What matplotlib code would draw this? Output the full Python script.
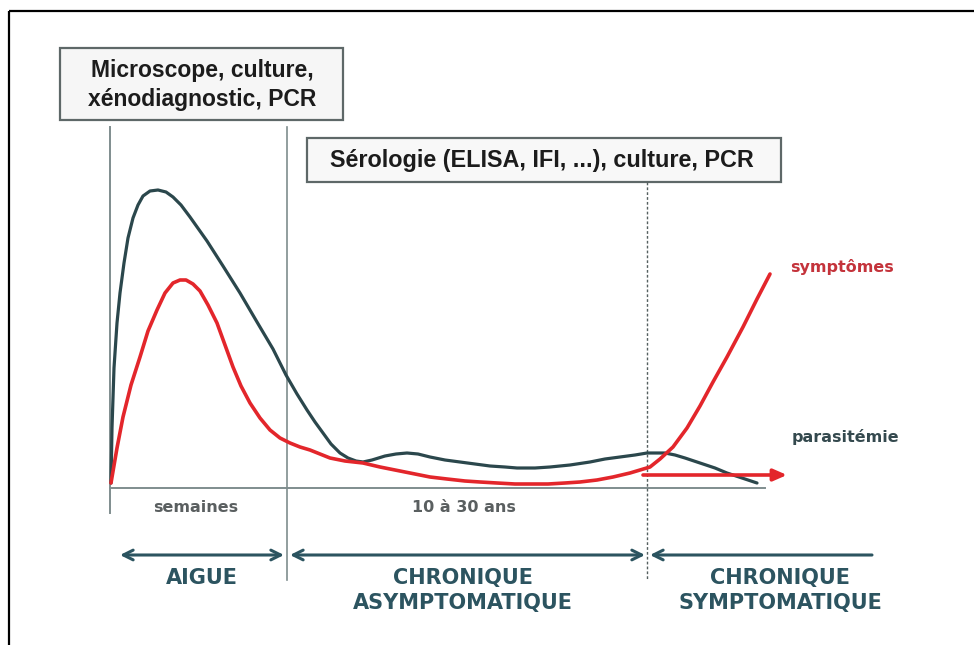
"""
Schema: evolution de la parasitemie et des symptomes (phase aigue -> chronique).
Coordonnees: x = position horizontale, y = niveau au-dessus de l'axe du temps.
"""
import matplotlib.pyplot as plt
from matplotlib.patches import Rectangle

# courbe parasitemie (sombre)
PARA_X = [111, 112, 114, 117, 120, 124, 128, 133, 138, 143, 150, 158, 166, 173,
          181, 190, 207, 223, 240, 257, 273, 286, 297, 307, 315, 323, 331, 340,
          348, 356, 363, 372, 385, 396, 407, 418, 430, 445, 460, 475, 490, 505,
          517, 535, 550, 570, 590, 605, 620, 635, 647, 656, 665, 675, 685, 700,
          715, 727, 742, 757]
PARA_Y = [5, 60, 120, 165, 195, 225, 250, 270, 283, 292, 297, 298, 296, 291,
          283, 271, 247, 222, 195, 166, 139, 113, 94, 78, 66, 55, 44, 35, 30,
          27, 26, 28, 32, 34, 35, 34, 31, 28, 26, 24, 22, 21, 20, 20, 21, 23,
          26, 29, 31, 33, 35, 35, 35, 33, 30, 25, 20, 15, 10, 5]

# courbe symptomes (rouge)
SYMP_X = [111, 117, 123, 131, 140, 148, 157, 165, 173, 180, 186, 193, 200, 208,
          217, 225, 233, 241, 250, 260, 270, 280, 290, 300, 310, 320, 330, 345,
          363, 380, 400, 415, 430, 447, 465, 480, 497, 515, 530, 548, 565, 580,
          597, 613, 630, 640, 650, 660, 673, 687, 700, 713, 727, 743, 757, 770]
SYMP_Y = [5, 40, 71, 103, 131, 157, 178, 195, 205, 208, 208, 204, 197, 183,
          165, 143, 121, 102, 85, 70, 58, 50, 45, 41, 38, 34, 30, 27, 25, 21,
          17, 14, 11, 9, 7, 6, 5, 4, 4, 4, 5, 6, 8, 11, 15, 18, 21, 29, 41, 60,
          82, 106, 131, 161, 189, 214]

# fleche rouge horizontale (suite des symptomes)
SYMP_ARROW = (643, 787, 13)

PHASES = ["AIGUE", "CHRONIQUE\nASYMPTOMATIQUE", "CHRONIQUE\nSYMPTOMATIQUE"]
PHASE_X = [202, 463, 780]
DUREES = ["semaines", "10 à 30 ans"]
DUREE_X = [196, 464]

BOX1 = "Microscope, culture,\nxénodiagnostic, PCR"
BOX2 = "Sérologie (ELISA, IFI, ...), culture, PCR"

DARK = "#2b474c"
RED = "#e3262b"
TEAL = "#2c5460"
GRID = "#7f8d8e"
ARIAL = ["Liberation Sans", "DejaVu Sans"]

fig = plt.figure(figsize=(9.74, 6.45), dpi=100)
ax = fig.add_axes([0, 0, 1, 1])
ax.set_xlim(0, 974)
ax.set_ylim(-157, 488)
ax.axis("off")

# cadre (haut + gauche)
ax.plot([9, 974], [477, 477], color="black", lw=1.6, solid_capstyle="butt")
ax.plot([9, 9], [477, -157], color="black", lw=1.6, solid_capstyle="butt")

# axe du temps et separateurs
ax.plot([110, 765], [0, 0], color=GRID, lw=1.4)
ax.plot([110, 110], [361, -25], color=GRID, lw=1.4)
ax.plot([287, 287], [361, -92], color=GRID, lw=1.2)
ax.plot([647, 647], [306, -92], color="#556060", lw=1.0, ls=(0, (2, 1.5)))

# courbes
ax.plot(PARA_X, PARA_Y, color=DARK, lw=2.3, solid_joinstyle="round",
        solid_capstyle="round")
ax.plot(SYMP_X, SYMP_Y, color=RED, lw=2.6, solid_joinstyle="round",
        solid_capstyle="round")
x0, x1, ya = SYMP_ARROW
ax.annotate("", xy=(x1, ya), xytext=(x0, ya),
            arrowprops=dict(arrowstyle="-|>,head_length=0.8,head_width=0.35",
                            color=RED, lw=2.6, shrinkA=0, shrinkB=0))

ax.text(790, 221, "symptômes", color="#c4333b", fontsize=11.5,
        fontweight="bold", ha="left", va="center")
ax.text(792, 51, "parasitémie", color="#34494e", fontsize=11.5,
        fontweight="bold", ha="left", va="center")

# boites diagnostiques
ax.add_patch(Rectangle((60, 368), 283, 72, facecolor="#f6f6f6",
                       edgecolor="#5e6868", lw=1.6))
ax.text(202, 403, BOX1, ha="center", va="center", fontsize=16.5,
        fontweight="bold", family=ARIAL, color="#1c1c1c", linespacing=1.3)
ax.add_patch(Rectangle((307, 306), 474, 44, facecolor="#f8f8f8",
                       edgecolor="#5e6868", lw=1.6))
ax.text(542, 327, BOX2, ha="center", va="center", fontsize=16.8,
        fontweight="bold", family=ARIAL, color="#1c1c1c")

# durees
for lab, x in zip(DUREES, DUREE_X):
    ax.text(x, -20, lab, ha="center", va="center", fontsize=11.5,
            fontweight="bold", color="#5a5f60")

# fleches des phases
arr = dict(color=TEAL, lw=2.2, shrinkA=0, shrinkB=0)
ax.annotate("", xy=(120, -67), xytext=(284, -67),
            arrowprops=dict(arrowstyle="<->,head_length=0.7,head_width=0.35", **arr))
ax.annotate("", xy=(290, -67), xytext=(645, -67),
            arrowprops=dict(arrowstyle="<->,head_length=0.7,head_width=0.35", **arr))
ax.annotate("", xy=(650, -67), xytext=(872, -67),
            arrowprops=dict(arrowstyle="->,head_length=0.7,head_width=0.35", **arr))

for lab, x in zip(PHASES, PHASE_X):
    ax.text(x, -80, lab, ha="center", va="top", fontsize=15,
            fontweight="bold", color=TEAL, linespacing=1.3)

fig.savefig("out.png", dpi=100)
